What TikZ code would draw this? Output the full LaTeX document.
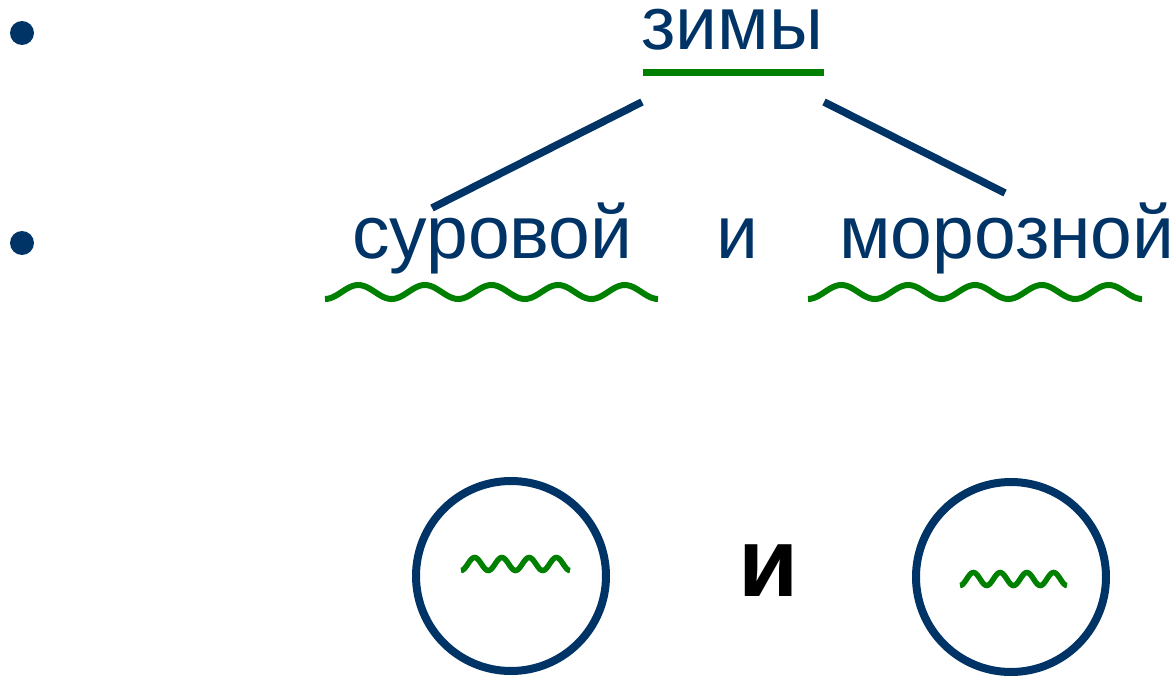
\documentclass[tikz,border=0pt]{standalone}
\usepackage{fontspec}
\setmainfont{Liberation Sans}
\definecolor{navy}{RGB}{0,51,102}
\definecolor{grn}{RGB}{0,128,0}
\begin{document}
\begin{tikzpicture}[x=1pt,y=-1pt,
  word/.style={inner sep=0pt,anchor=base west,text=navy,font=\fontsize{75}{80}\selectfont},
  link/.style={draw=navy,line width=7.5pt},
  wave/.style={draw=grn,line width=6pt},
  swave/.style={draw=grn,line width=5.5pt},
  ring/.style={draw=navy,line width=8pt,circle,minimum size=190pt,inner sep=0pt},
  dot/.style={fill=navy,circle,minimum size=24pt,inner sep=0pt}]
\useasboundingbox (0,0) rectangle (1176,677);
\node[dot] (b1) at (22,33) {};
\node[dot] (b2) at (22,243) {};
\node[word,text height=40pt] (zimy) at (641,50) {зимы};
\draw[grn,line width=7pt] (643,73) -- (824,73);
\coordinate (l1) at (642,102);
\coordinate (l2) at (432,208);
\coordinate (r1) at (824,102);
\coordinate (r2) at (1005,193);
\draw[link] (l1) -- (l2);
\draw[link] (r1) -- (r2);
\node[word] (sur) at (352,258) {суровой};
\node[word] (i1) at (716,258) {и};
\node[word] (mor) at (839,258) {морозной};
\draw[wave] plot[domain=0:1800,samples=121,smooth] ({325+\x*0.185},{292+7*cos(\x)});
\draw[wave] plot[domain=0:1800,samples=121,smooth] ({808+\x*0.18556},{292+7*cos(\x)});
\node[ring] (c1) at (511,576) {};
\node[ring] (c2) at (1011,577) {};
\draw[swave] plot[domain=0:1440,samples=97,smooth] ({461+\x*0.0757},{564+6.5*cos(\x)});
\draw[swave] plot[domain=0:1440,samples=97,smooth] ({960+\x*0.0743},{579+6.5*cos(\x)});
\node[inner sep=0pt,anchor=base west,font=\bfseries\fontsize{98}{100}\selectfont] (i2) at (738,596) {и};
\end{tikzpicture}
\end{document}
